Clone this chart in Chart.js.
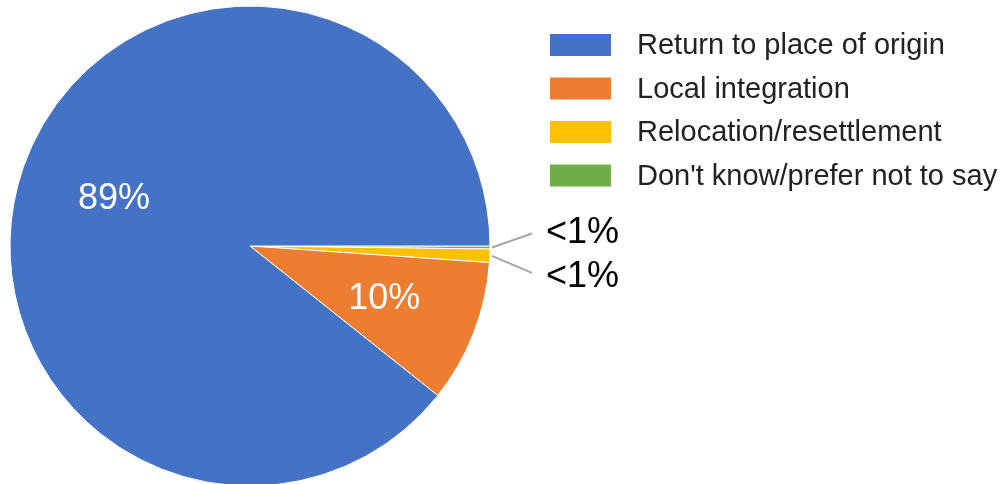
<!DOCTYPE html>
<html>
<head>
<meta charset="utf-8">
<title>Preferred durable solution</title>
<script src="https://cdn.jsdelivr.net/npm/chart.js@4.4.0/dist/chart.umd.min.js"></script>
<style>
    html, body { margin: 0; padding: 0; background: #fff; overflow: hidden; }
    #wrap { position: relative; width: 1005px; height: 484px; overflow: hidden; }
    #wrap canvas { display: block; }
</style>
</head>
<body>
<div id="wrap"><canvas id="solutionPie" width="1005" height="492"></canvas></div>
<script>
// 数据
const categories = ['Return to place of origin', 'Local integration', 'Relocation/resettlement', "Don't know/prefer not to say"];
const shares = [89.3, 9.6, 0.9, 0.2];
const colours = ['#4472C4', '#ED7D31', '#FFC000', '#70AD47'];

const FONT = '"Liberation Sans", Arial, Helvetica, sans-serif';

// 百分比文字
function pctText(v) {
    return v < 1 ? '<1%' : Math.round(v) + '%';
}

// 扇区标签（大扇区内部白字，小扇区外部引线）
const sliceLabels = {
    id: 'sliceLabels',
    afterDatasetsDraw(chart) {
        const ctx = chart.ctx;
        const ds = chart.data.datasets[0];
        const meta = chart.getDatasetMeta(0);
        let small = 0;
        ctx.save();
        ctx.font = '36px ' + FONT;
        ctx.textBaseline = 'middle';
        meta.data.forEach((arc, i) => {
            const v = ds.data[i];
            const mid = (arc.startAngle + arc.endAngle) / 2;
            const r = arc.outerRadius;
            if (v >= 1) {
                ctx.fillStyle = '#fff';
                ctx.textAlign = 'center';
                ctx.fillText(pctText(v), arc.x + Math.cos(mid) * r * 0.6, arc.y + Math.sin(mid) * r * 0.6 + 1);
                return;
            }
            const up = small === 0;
            small++;
            const sx = arc.x + Math.cos(mid) * (r + 2);
            const sy = arc.y + Math.sin(mid) * (r + 2);
            const ex = arc.x + r + 42;
            const ey = up ? sy - 14 : sy + 17;
            ctx.strokeStyle = '#a6a6a6';
            ctx.lineWidth = 2;
            ctx.beginPath();
            ctx.moveTo(sx, sy);
            ctx.lineTo(ex, ey);
            ctx.stroke();
            ctx.fillStyle = '#000';
            ctx.textAlign = 'left';
            ctx.fillText(pctText(v), arc.x + r + 56, up ? ey : ey + 4);
        });
        ctx.restore();
    }
};

// 右侧图例
const sideLegend = {
    id: 'sideLegend',
    afterDraw(chart) {
        const ctx = chart.ctx;
        ctx.save();
        ctx.font = '29px ' + FONT;
        ctx.textBaseline = 'middle';
        ctx.textAlign = 'left';
        categories.forEach((name, i) => {
            const y = 45 + i * 43.5;
            ctx.fillStyle = colours[i];
            ctx.fillRect(550, y - 11, 61, 22);
            ctx.fillStyle = '#222';
            ctx.fillText(name, 637, y + 1);
        });
        ctx.restore();
    }
};

// 初始化饼图（逆时针排列，故数据反序传入）
function initSolutionPie() {
    const ctx = document.getElementById('solutionPie').getContext('2d');
    new Chart(ctx, {
        type: 'pie',
        data: {
            labels: categories.slice().reverse(),
            datasets: [{
                data: shares.slice().reverse(),
                backgroundColor: colours.slice().reverse(),
                borderColor: '#fff',
                borderWidth: 1
            }]
        },
        options: {
            responsive: false,
            animation: false,
            rotation: 90,
            radius: 240,
            layout: { padding: { left: 10, top: 6, right: 515, bottom: 6 } },
            plugins: {
                legend: { display: false },
                tooltip: { enabled: false }
            }
        },
        plugins: [sliceLabels, sideLegend]
    });
}

document.addEventListener('DOMContentLoaded', initSolutionPie);
</script>
</body>
</html>
